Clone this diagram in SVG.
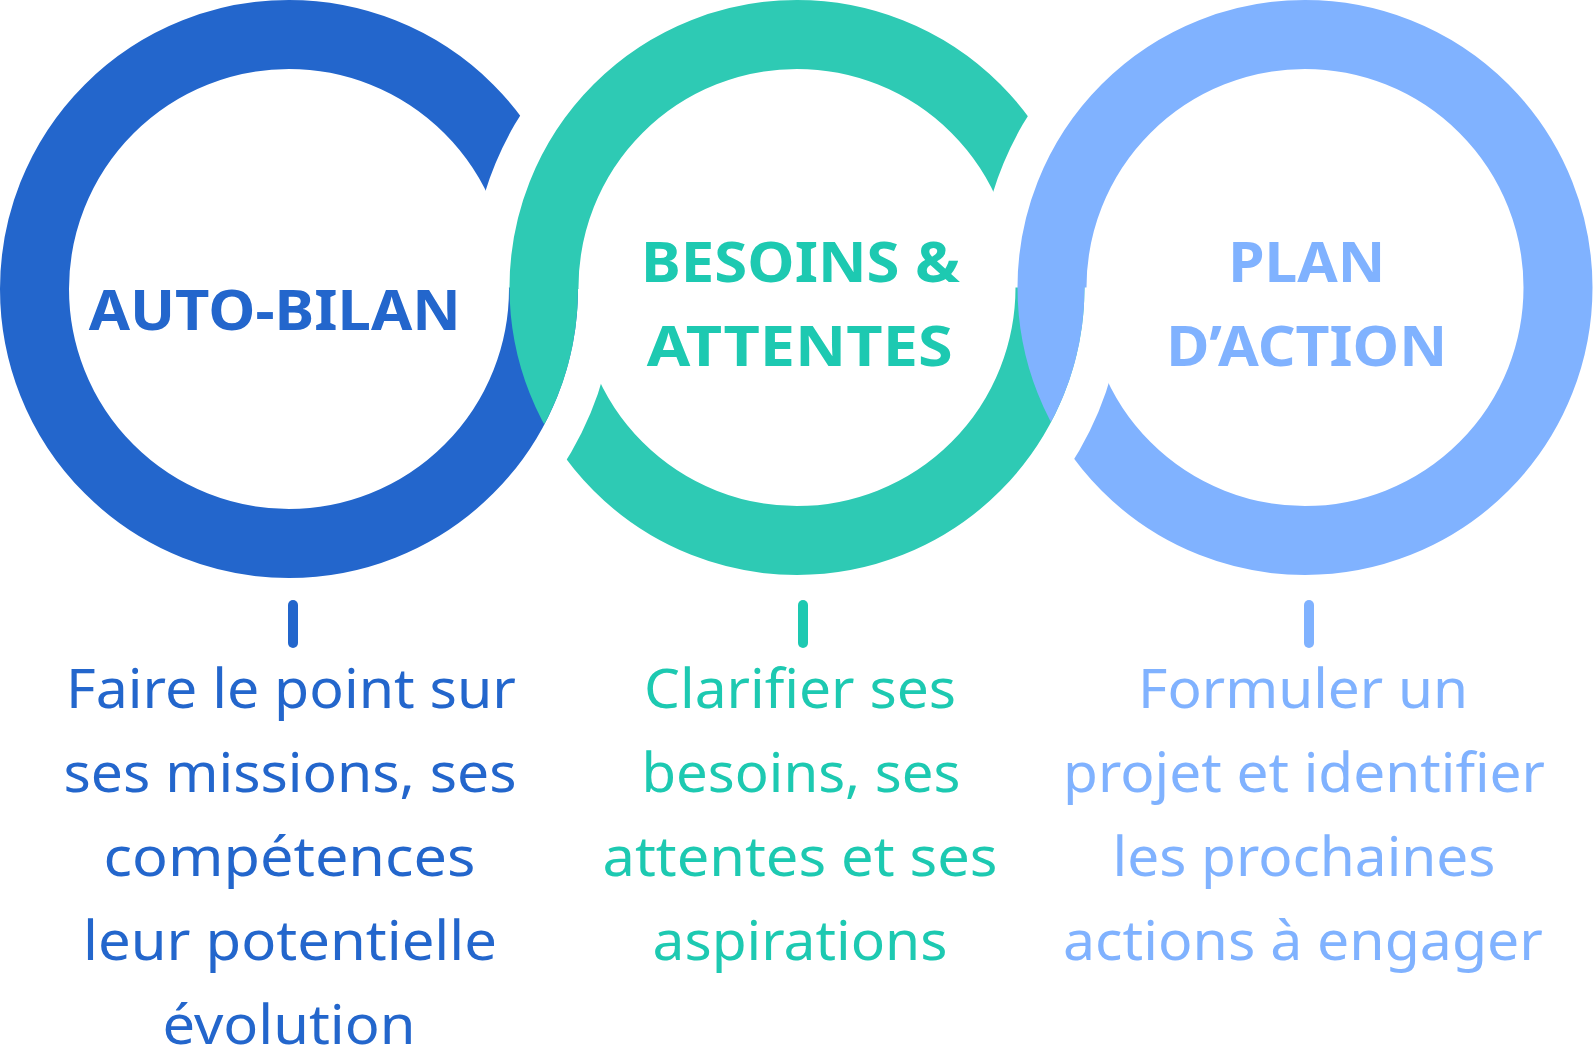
<svg xmlns="http://www.w3.org/2000/svg" width="1593" height="1059" viewBox="0 0 1593 1059">
  <style>
    .ring { fill: none; stroke-width: 69; }
    .cut { fill: none; stroke: #000; }
    .title { font-family: "Noto Sans", "Open Sans", sans-serif; font-weight: 700; font-size: 55px; text-anchor: middle; }
    .desc { font-family: "Noto Sans", "Open Sans", sans-serif; font-weight: 400; font-size: 54px; text-anchor: middle; }
    .tick { stroke-width: 10; stroke-linecap: round; fill: none; }
    .blue { fill: #2366CC; }
    .teal { fill: #1DC9B1; }
    .light { fill: #80B2FF; }
  </style>
  <defs>
    <mask id="m-blue" maskUnits="userSpaceOnUse" x="0" y="0" width="1593" height="1059">
      <rect x="0" y="0" width="1593" height="1059" fill="#fff"/>
      <path class="cut" stroke-width="76" d="M 509 287.5 A 288 288 0 0 1 653 38.1"/>
    </mask>
    <mask id="m-teal" maskUnits="userSpaceOnUse" x="0" y="0" width="1593" height="1059">
      <rect x="0" y="0" width="1593" height="1059" fill="#fff"/>
      <path class="cut" stroke-width="37" d="M 596.5 289 A 307.5 307.5 0 0 1 442.75 555.3"/>
      <path class="cut" stroke-width="76" d="M 1017 287.5 A 288 288 0 0 1 1161 38.1"/>
    </mask>
    <mask id="m-light" maskUnits="userSpaceOnUse" x="0" y="0" width="1593" height="1059">
      <rect x="0" y="0" width="1593" height="1059" fill="#fff"/>
      <path class="cut" stroke-width="38.5" d="M 1103.75 287.5 A 306.75 306.75 0 0 1 950.4 553.1"/>
    </mask>
  </defs>
  <rect x="0" y="0" width="1593" height="1059" fill="#fff"/>

  <g id="node-auto-bilan">
    <circle class="ring" cx="289" cy="289" r="254.5" stroke="#2366CC" mask="url(#m-blue)"/>
    <text class="title blue" x="274.7" y="330" textLength="372" lengthAdjust="spacingAndGlyphs">AUTO-BILAN</text>
    <g class="desc blue">
      <text x="291" y="708" textLength="450" lengthAdjust="spacingAndGlyphs">Faire le point sur</text>
      <text x="290" y="792" textLength="453" lengthAdjust="spacingAndGlyphs">ses missions, ses</text>
      <text x="289.5" y="876" textLength="372" lengthAdjust="spacingAndGlyphs">compétences</text>
      <text x="290" y="960" textLength="414" lengthAdjust="spacingAndGlyphs">leur potentielle</text>
      <text x="289" y="1044" textLength="253" lengthAdjust="spacingAndGlyphs">évolution</text>
    </g>
  </g>

  <g id="node-besoins-attentes">
    <circle class="ring" cx="797" cy="287.5" r="253" stroke="#2ECAB4" mask="url(#m-teal)"/>
    <text class="title teal" x="800.5" y="281.7" textLength="319" lengthAdjust="spacingAndGlyphs">BESOINS &amp;</text>
    <text class="title teal" x="799.7" y="366" textLength="306" lengthAdjust="spacingAndGlyphs">ATTENTES</text>
    <g class="desc teal">
      <text x="800" y="708" textLength="312" lengthAdjust="spacingAndGlyphs">Clarifier ses</text>
      <text x="801" y="792" textLength="319" lengthAdjust="spacingAndGlyphs">besoins, ses</text>
      <text x="800" y="876" textLength="395" lengthAdjust="spacingAndGlyphs">attentes et ses</text>
      <text x="800" y="960" textLength="295" lengthAdjust="spacingAndGlyphs">aspirations</text>
    </g>
  </g>

  <g id="node-plan-action">
    <circle class="ring" cx="1305" cy="287.5" r="253" stroke="#80B2FF" mask="url(#m-light)"/>
    <text class="title light" x="1306.7" y="281.7" textLength="157" lengthAdjust="spacingAndGlyphs">PLAN</text>
    <text class="title light" x="1306.7" y="366" textLength="281" lengthAdjust="spacingAndGlyphs">D’ACTION</text>
    <g class="desc light">
      <text x="1303" y="708" textLength="330" lengthAdjust="spacingAndGlyphs">Formuler un</text>
      <text x="1304" y="792" textLength="482" lengthAdjust="spacingAndGlyphs">projet et identifier</text>
      <text x="1304" y="876" textLength="383" lengthAdjust="spacingAndGlyphs">les prochaines</text>
      <text x="1303" y="960" textLength="480" lengthAdjust="spacingAndGlyphs">actions à engager</text>
    </g>
  </g>

  <g id="connectors">
    <line class="tick" x1="293" y1="605" x2="293" y2="643" stroke="#2366CC"/>
    <line class="tick" x1="803" y1="605" x2="803" y2="643" stroke="#1DC9B1"/>
    <line class="tick" x1="1309" y1="605" x2="1309" y2="643" stroke="#80B2FF"/>
  </g>
</svg>
